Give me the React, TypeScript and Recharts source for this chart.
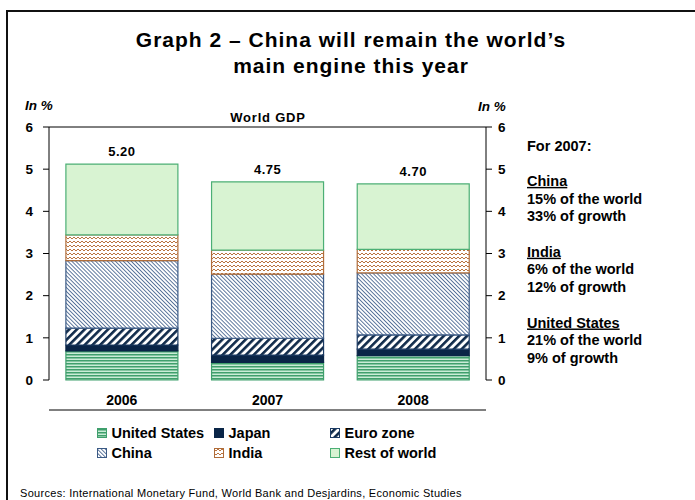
import { ComposedChart, Bar, Line, XAxis, YAxis, ReferenceLine, LabelList } from 'recharts';

// Contributions to world GDP growth, in % points
const years = ['2006', '2007', '2008'];
const unitedStates = [0.69, 0.42, 0.58];
const japan = [0.14, 0.17, 0.15];
const euroZone = [0.4, 0.4, 0.34];
const china = [1.6, 1.52, 1.47];
const india = [0.61, 0.57, 0.56];
const restOfWorld = [1.68, 1.62, 1.55];
const totals = ['5.20', '4.75', '4.70'];
const yTicks = [0, 1, 2, 3, 4, 5, 6];
const bandEdges = [0, 1, 2, 3];

const notes = [
  { text: 'For 2007:', head: false },
  { text: '', head: false },
  { text: 'China', head: true },
  { text: '15% of the world', head: false },
  { text: '33% of growth', head: false },
  { text: '', head: false },
  { text: 'India', head: true },
  { text: '6% of the world', head: false },
  { text: '12% of growth', head: false },
  { text: '', head: false },
  { text: 'United States', head: true },
  { text: '21% of the world', head: false },
  { text: '9% of growth', head: false },
];

const data = years.map((year, i) => ({
  year,
  us: unitedStates[i],
  japan: japan[i],
  euro: euroZone[i],
  china: china[i],
  india: india[i],
  rest: restOfWorld[i],
}));

const series = [
  { key: 'us', name: 'United States', fill: 'url(#pUS)', stroke: '#3f9f6c' },
  { key: 'japan', name: 'Japan', fill: '#0a2547', stroke: '#0a2547' },
  { key: 'euro', name: 'Euro zone', fill: 'url(#pEuro)', stroke: '#1b3a63' },
  { key: 'china', name: 'China', fill: 'url(#pChina)', stroke: '#3b5a85' },
  { key: 'india', name: 'India', fill: 'url(#pIndia)', stroke: '#b06d3a' },
  { key: 'rest', name: 'Rest of world', fill: '#d8f3d2', stroke: '#4caf75' },
];

// legend is laid out in the same order as the original: 3 columns, 2 rows
const legendCols = [97, 214, 330];
const legendRows = [438, 458];

const FONT = 'Arial, "Liberation Sans", sans-serif';

const TotalLabel = (props: any) => {
  const { x, y, width, index } = props;
  return (
    <text
      x={x + width / 2}
      y={y - 8}
      textAnchor="middle"
      fontSize={13}
      fontWeight="bold"
      letterSpacing={0.5}
      fill="#000"
    >
      {totals[index]}
    </text>
  );
};

export default function App() {
  return (
    <div style={{ position: 'absolute', left: 0, top: 0, width: 695, height: 500, fontFamily: FONT, background: '#fff', overflow: 'hidden' }}>
      <div style={{ position: 'absolute', left: 6, top: 10, width: 720, height: 520, border: '2px solid #111', boxSizing: 'border-box' }} />
      <svg width={695} height={500} style={{ position: 'absolute', left: 0, top: 0 }} fontFamily={FONT}>
        <defs>
          <pattern id="pUS" width={4} height={3} patternUnits="userSpaceOnUse">
            <rect width={4} height={3} fill="#c9ecd6" />
            <rect width={4} height={1.5} fill="#3f9f6c" />
          </pattern>
          <pattern id="pEuro" width={5.5} height={5.5} patternUnits="userSpaceOnUse" patternTransform="rotate(45)">
            <rect width={5.5} height={5.5} fill="#fff" />
            <rect width={2.6} height={5.5} fill="#0f2a4a" />
          </pattern>
          <pattern id="pChina" width={2.8} height={2.8} patternUnits="userSpaceOnUse" patternTransform="rotate(-45)">
            <rect width={2.8} height={2.8} fill="#fff" />
            <rect width={0.8} height={2.8} fill="#3a5a88" />
          </pattern>
          <pattern id="pIndia" width={4} height={4} patternUnits="userSpaceOnUse">
            <rect width={4} height={4} fill="#fff" />
            <path d="M0 3 L2 1 L4 3" stroke="#b8733f" strokeWidth={1} fill="none" />
          </pattern>
        </defs>

        <text x={351} y={46.5} textAnchor="middle" fontSize={21} fontWeight="bold" letterSpacing={1}>
          Graph 2 – China will remain the world’s
        </text>
        <text x={351} y={72.5} textAnchor="middle" fontSize={21} fontWeight="bold" letterSpacing={1}>
          main engine this year
        </text>

        <text x={25} y={110} fontSize={13.5} fontWeight="bold" fontStyle="italic">In %</text>
        <text x={478} y={110.5} fontSize={13.5} fontWeight="bold" fontStyle="italic">In %</text>
        <text x={268} y={121.5} textAnchor="middle" fontSize={13} fontWeight="bold" letterSpacing={0.8}>World GDP</text>

        {notes.map((n, i) => (
          <text
            key={i}
            x={527}
            y={150.5 + i * 17.7}
            fontSize={14.5}
            fontWeight="bold"
            textDecoration={n.head ? 'underline' : undefined}
          >
            {n.text}
          </text>
        ))}

        {series.map((s, i) => {
          const col = legendCols[i % 3];
          const row = legendRows[Math.floor(i / 3)];
          return (
            <g key={s.key}>
              <rect x={col + 0.5} y={row - 9.5} width={9} height={9} fill={s.fill} stroke={s.stroke} strokeWidth={1} />
              <text x={col + 14.5} y={row} fontSize={14.5} fontWeight="bold">{s.name}</text>
            </g>
          );
        })}

        <text x={20} y={496.5} fontSize={11} letterSpacing={0.3}>
          Sources: International Monetary Fund, World Bank and Desjardins, Economic Studies
        </text>
      </svg>

      <div style={{ position: 'absolute', left: 0, top: 0 }}>
        <ComposedChart
          width={695}
          height={500}
          data={data}
          margin={{ top: 127, right: 0, bottom: 89, left: 0 }}
          barCategoryGap="11.6%"
          style={{ fontFamily: FONT }}
        >
          <XAxis
            xAxisId="sep"
            type="number"
            domain={[0, 3]}
            ticks={bandEdges}
            height={1}
            tick={false}
            tickSize={5}
            axisLine={{ stroke: '#000' }}
            tickLine={{ stroke: '#000' }}
          />
          <XAxis
            dataKey="year"
            height={30}
            axisLine={false}
            tickLine={false}
            tickSize={0}
            tickMargin={15}
            tick={{ fontSize: 14, fontWeight: 'bold', fill: '#000' }}
          />
          <YAxis
            domain={[0, 6]}
            ticks={yTicks}
            width={49}
            tickSize={6}
            tickMargin={10}
            axisLine={{ stroke: '#000' }}
            tickLine={{ stroke: '#000' }}
            tick={{ fontSize: 13.5, fontWeight: 'bold', fill: '#000' }}
          />
          <YAxis
            yAxisId="right"
            orientation="right"
            domain={[0, 6]}
            ticks={yTicks}
            width={209}
            tickSize={6}
            tickMargin={6}
            axisLine={{ stroke: '#000' }}
            tickLine={{ stroke: '#000' }}
            tick={{ fontSize: 13.5, fontWeight: 'bold', fill: '#000' }}
          />
          <ReferenceLine y={6} stroke="#000" />
          {series.map((s) => (
            <Bar
              key={s.key}
              dataKey={s.key}
              name={s.name}
              stackId="gdp"
              fill={s.fill}
              stroke={s.stroke}
              strokeWidth={1.2}
              isAnimationActive={false}
            >
              {s.key === 'rest' && <LabelList dataKey="rest" content={TotalLabel} />}
            </Bar>
          ))}
          {/* invisible helper so the right-hand axis gets its ticks */}
          <Line
            yAxisId="right"
            dataKey="rest"
            stroke="none"
            dot={false}
            activeDot={false}
            legendType="none"
            isAnimationActive={false}
          />
        </ComposedChart>
      </div>
    </div>
  );
}
